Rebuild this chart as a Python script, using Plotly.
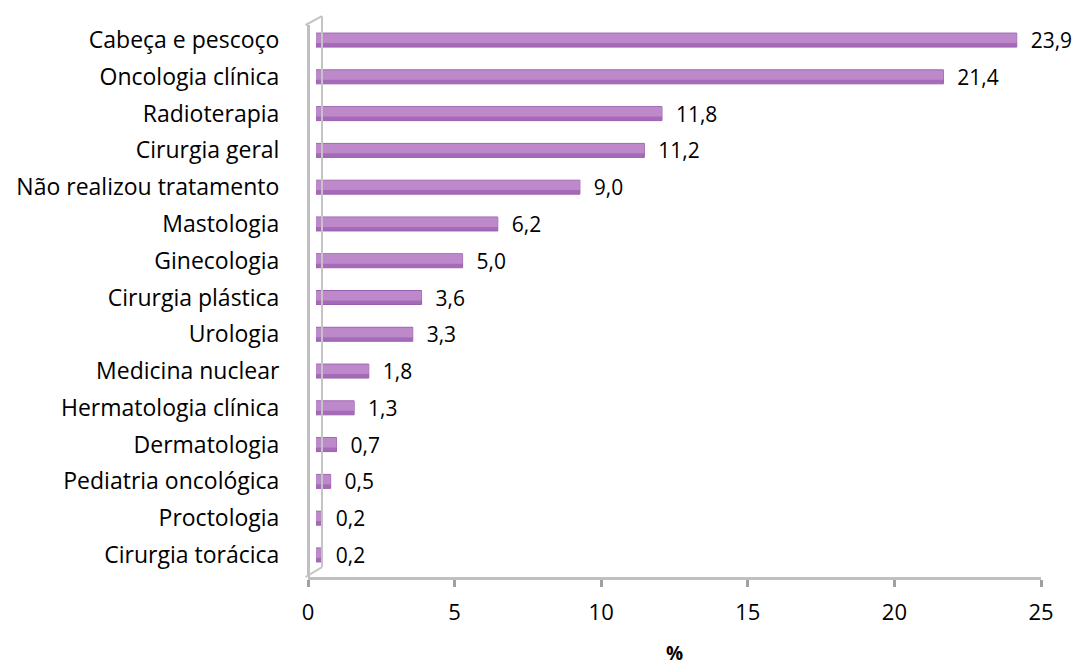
import plotly.graph_objects as go

categories = ["Cabeça e pescoço", "Oncologia clínica", "Radioterapia", "Cirurgia geral",
              "Não realizou tratamento", "Mastologia", "Ginecologia", "Cirurgia plástica",
              "Urologia", "Medicina nuclear", "Hermatologia clínica", "Dermatologia",
              "Pediatria oncológica", "Proctologia", "Cirurgia torácica"]
values = [23.9, 21.4, 11.8, 11.2, 9.0, 6.2, 5.0, 3.6, 3.3, 1.8, 1.3, 0.7, 0.5, 0.2, 0.2]
x_ticks = [0, 5, 10, 15, 20, 25]

labels = ["\u00a0\u00a0" + f"{v:.1f}".replace(".", ",") for v in values]

FONT = "Open Sans"
PW = 741.0   # full plot width in px
DEPTH = 8.0  # 3D depth offset in px

fig = go.Figure()
fig.add_trace(go.Bar(
    y=categories, x=values, orientation="h",
    marker=dict(color="#a66bb8", line=dict(color="#9a5fae", width=1)),
    width=0.38,
    text=labels, textposition="outside", cliponaxis=False, constraintext="none",
    textfont=dict(family=FONT, size=21, color="#000"),
))
fig.add_trace(go.Bar(
    y=categories, x=values, orientation="h",
    marker=dict(color="#bd89ca", line=dict(width=0)),
    width=0.26, offset=-0.18, hoverinfo="skip",
))
# empty trace so the front (visible) value axis is drawn
fig.add_trace(go.Scatter(x=[], y=[], xaxis="x2", yaxis="y", hoverinfo="skip"))

fig.update_layout(
    width=1072, height=658,
    barmode="overlay",
    margin=dict(l=300, r=31, t=17, b=89, autoexpand=False),
    paper_bgcolor="white", plot_bgcolor="rgba(0,0,0,0)",
    showlegend=False,
    font=dict(family=FONT, size=21, color="#000"),
    xaxis=dict(range=[0, 25], domain=[DEPTH / PW, 1], anchor="y",
               showgrid=False, zeroline=False, showline=False, showticklabels=False,
               ticks=""),
    xaxis2=dict(range=[0, 25], domain=[0, (PW - DEPTH) / PW], tickvals=x_ticks,
                anchor="y",
                showgrid=False, zeroline=False,
                showline=True, linecolor="#c0c0c0", linewidth=3,
                ticks="outside", tickcolor="#a0a0a0", ticklen=7, tickwidth=3,
                ticklabelstandoff=7,
                tickfont=dict(family=FONT, size=22), automargin=False,
                title=dict(text="<b>%</b>", font=dict(family=FONT, size=19), standoff=27)),
    yaxis=dict(range=[14.6, -0.41], anchor="free", position=0,
               showgrid=False, zeroline=False,
               showline=True, linecolor="#c0c0c0", linewidth=3,
               ticks="", ticklabelstandoff=23, automargin=False,
               tickfont=dict(family=FONT, size=23)),
)

wall = dict(color="#c4c4c4", width=2)
bx = 14.0 / PW
fx = -2.5 / PW
fig.add_shape(type="line", xref="paper", yref="paper", x0=bx, x1=bx, y0=0.018, y1=1.016, line=wall)
fig.add_shape(type="line", xref="paper", yref="paper", x0=fx, x1=bx, y0=1.0, y1=1.016, line=wall)
fig.add_shape(type="line", xref="paper", yref="paper", x0=fx, x1=bx, y0=0.0, y1=0.018, line=wall)

fig.write_html("out.html")
